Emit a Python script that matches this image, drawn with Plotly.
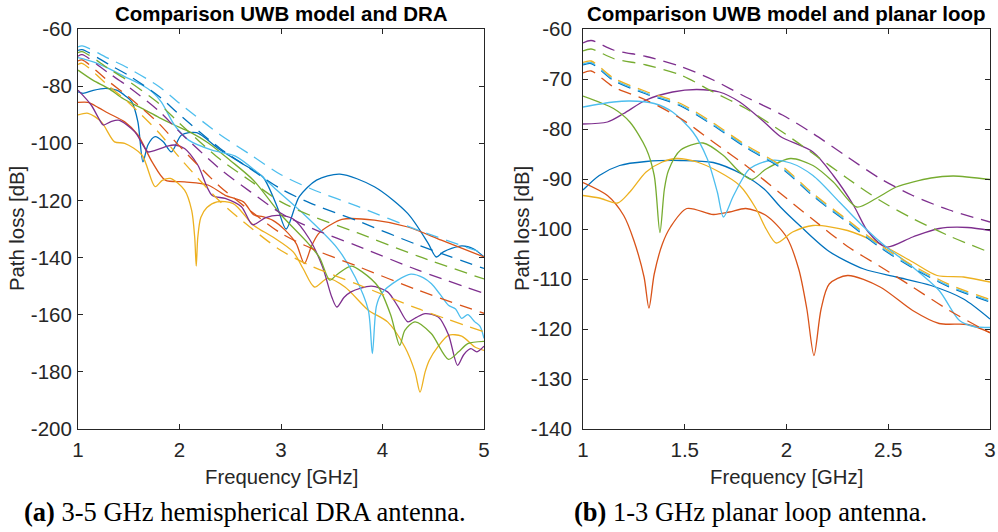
import plotly.graph_objects as go

# MATLAB default colour order
BLUE, RED, YELLOW, PURPLE, GREEN, CYAN = (
    "#0072BD", "#D95319", "#EDB120", "#7E2F8E", "#77AC30", "#4DBEEE")

# ---------------- (a) 3-5 GHz hemispherical DRA antenna ----------------
# measured path loss (solid)
dra_blue_f = [1.0, 1.05, 1.15, 1.27, 1.38, 1.47, 1.53, 1.59, 1.64, 1.69, 1.76, 1.84, 1.92, 2.02,
              2.17, 2.38, 2.64, 2.82, 2.96, 3.05, 3.18, 3.35, 3.58, 3.92, 4.25, 4.45, 4.53, 4.6,
              4.78, 4.9, 5.0]
dra_blue_pl = [-82.0, -82.5, -81.5, -80.8, -81.4, -83.5, -85.5, -92.5, -106.5, -100.5, -97.7, -99.5,
               -103.0, -97.1, -96.3, -101.8, -107.6, -111.7, -122.0, -130.0, -118.7, -112.9, -110.8,
               -115.2, -124.6, -135.0, -139.8, -138.0, -135.9, -137.0, -139.8]

dra_cyan_f = [1.0, 1.15, 1.3, 1.45, 1.63, 1.73, 1.82, 1.95, 2.09, 2.32, 2.55, 2.81, 2.94, 3.2, 3.55,
              3.73, 3.86, 3.9, 3.94, 3.99, 4.15, 4.28, 4.4, 4.48, 4.57, 4.65, 4.72, 4.78, 4.84,
              4.91, 4.96, 5.0]
dra_cyan_pl = [-70.0, -71.5, -73.8, -76.5, -79.6, -82.0, -85.5, -93.6, -98.9, -102.4, -104.5, -111.5,
               -115.8, -124.0, -136.5, -146.8, -158.4, -173.6, -157.0, -152.6, -147.9, -145.8, -147.0,
               -149.1, -153.0, -156.7, -158.0, -161.3, -160.0, -162.5, -164.0, -168.3]

dra_green_f = [1.0, 1.15, 1.3, 1.45, 1.63, 1.8, 1.95, 2.1, 2.28, 2.5, 2.73, 3.0, 3.27, 3.38, 3.48,
               3.55, 3.69, 3.8, 3.96, 4.08, 4.17, 4.22, 4.32, 4.48, 4.65, 4.75, 4.84, 5.0]
dra_green_pl = [-74.4, -78.0, -80.8, -84.5, -87.8, -91.0, -93.6, -96.0, -99.8, -106.0, -113.0, -125.0,
                -135.1, -140.0, -147.9, -146.0, -143.0, -145.0, -150.3, -160.0, -170.7, -165.5,
                -162.5, -166.6, -175.6, -173.0, -170.1, -169.3]

dra_purple_f = [1.0, 1.13, 1.2, 1.25, 1.32, 1.4, 1.56, 1.63, 1.69, 1.76, 1.88, 1.95, 2.05, 2.18, 2.32,
                2.45, 2.61, 2.72, 2.85, 2.97, 3.12, 3.28, 3.41, 3.5, 3.55, 3.62, 3.69, 3.89, 4.05,
                4.15, 4.25, 4.33, 4.42, 4.55, 4.65, 4.74, 4.8, 4.87, 4.93, 5.0]
dra_purple_pl = [-81.4, -86.6, -91.0, -93.6, -92.5, -91.9, -96.0, -100.0, -103.0, -102.5, -101.0,
                 -100.6, -101.8, -107.6, -118.2, -119.3, -122.2, -128.5, -126.0, -125.2, -126.5,
                 -133.5, -143.3, -153.8, -157.3, -154.0, -152.0, -150.0, -152.0, -157.0, -162.5,
                 -161.0, -159.6, -160.8, -167.0, -177.7, -174.0, -171.9, -173.0, -171.0]

dra_red_f = [1.0, 1.1, 1.2, 1.3, 1.46, 1.59, 1.73, 1.86, 2.05, 2.28, 2.45, 2.63, 2.73, 2.82, 2.92,
             3.04, 3.15, 3.23, 3.3, 3.37, 3.48, 3.6, 3.92, 4.25, 4.58, 5.0]
dra_red_pl = [-85.7, -85.7, -87.5, -89.5, -92.5, -97.1, -106.5, -112.9, -113.5, -114.6, -118.2,
              -120.5, -125.0, -125.7, -127.0, -130.4, -135.1, -142.1, -136.0, -131.6, -128.7,
              -126.6, -126.9, -129.3, -133.9, -139.8]

dra_yellow_f = [1.0, 1.1, 1.23, 1.36, 1.46, 1.63, 1.76, 1.83, 1.91, 2.05, 2.12, 2.15, 2.165, 2.18,
                2.21, 2.27, 2.37, 2.53, 2.73, 2.92, 3.12, 3.22, 3.33, 3.46, 3.63, 3.86, 4.05, 4.22,
                4.32, 4.37, 4.42, 4.46, 4.55, 4.65, 4.78, 4.91, 5.0]
dra_yellow_pl = [-90.1, -89.5, -92.5, -99.5, -100.0, -104.1, -115.2, -113.0, -112.3, -116.4, -123.5,
                 -133.0, -143.0, -133.0, -126.0, -122.5, -120.5, -121.1, -128.7, -132.8, -138.0,
                 -144.0, -150.3, -147.3, -150.3, -158.4, -162.5, -171.3, -180.0, -187.1, -180.0,
                 -176.0, -171.0, -167.2, -167.5, -171.3, -172.5]

# UWB channel model (dashed)
dra_model_f = [1.0, 1.04, 1.3, 1.5, 1.8, 2.0, 2.4, 2.7, 3.0, 3.3, 3.75, 4.35, 5.0]
dra_model_cyan = [-66.3, -65.9, -70.3, -73.8, -80.2, -86.0, -97.0, -104.0, -111.0, -116.0, -122.0,
                  -130.4, -138.5]
dra_model_blue = [-67.5, -67.2, -72.3, -76.3, -83.6, -90.0, -101.8, -109.0, -116.0, -121.1, -127.1,
                  -135.6, -143.8]
dra_model_green = [-68.3, -67.9, -73.8, -78.3, -86.2, -93.0, -105.6, -113.2, -120.5, -125.4, -131.3,
                   -139.5, -147.5]
dra_model_purple = [-69.5, -69.0, -75.4, -80.3, -88.8, -96.0, -109.0, -117.0, -124.5, -129.7, -135.9,
                    -144.4, -152.5]
dra_model_red = [-71.2, -70.8, -78.3, -83.8, -93.2, -101.0, -115.2, -123.7, -131.5, -136.8, -143.0,
                 -151.4, -159.5]
dra_model_yellow = [-72.4, -72.0, -79.9, -85.8, -96.4, -105.0, -120.4, -129.5, -137.5, -143.0,
                    -149.3, -157.9, -166.0]

# ---------------- (b) 1-3 GHz planar loop antenna ----------------
loop_blue_f = [1.0, 1.08, 1.18, 1.31, 1.48, 1.64, 1.78, 1.89, 1.97, 2.07, 2.21, 2.38, 2.54, 2.71,
               2.87, 3.0]
loop_blue_pl = [-92.2, -89.3, -87.3, -86.5, -86.3, -86.7, -89.0, -92.0, -95.6, -99.5, -104.5, -108.0,
                -109.6, -111.3, -114.0, -118.0]

loop_yellow_f = [1.0, 1.08, 1.17, 1.23, 1.31, 1.39, 1.46, 1.56, 1.67, 1.77, 1.85, 1.9, 1.95, 2.03,
                 2.13, 2.3, 2.46, 2.62, 2.74, 2.87, 3.0]
loop_yellow_pl = [-93.3, -93.8, -94.8, -92.6, -88.6, -86.6, -85.9, -86.6, -88.6, -91.3, -95.9,
                  -100.0, -102.8, -100.6, -99.3, -100.3, -103.0, -106.6, -109.3, -109.6, -110.6]

loop_red_f = [1.0, 1.12, 1.2, 1.25, 1.3, 1.324, 1.35, 1.39, 1.43, 1.51, 1.64, 1.72, 1.8, 1.9, 2.0,
              2.06, 2.1, 2.135, 2.17, 2.21, 2.3, 2.46, 2.62, 2.75, 2.89, 3.0]
loop_red_pl = [-90.7, -93.3, -97.3, -102.3, -109.6, -115.8, -109.0, -103.0, -99.6, -95.9, -97.1,
               -96.6, -95.9, -97.3, -101.6, -108.0, -116.0, -125.3, -116.0, -111.0, -109.3, -111.6,
               -116.3, -118.9, -119.1, -120.7]

loop_green_f = [1.0, 1.15, 1.23, 1.31, 1.35, 1.378, 1.40, 1.42, 1.48, 1.59, 1.69, 1.77, 1.83, 1.9,
                2.02, 2.13, 2.23, 2.345, 2.44, 2.54, 2.71, 2.82, 3.0]
loop_green_pl = [-73.4, -75.9, -78.6, -83.9, -89.3, -100.7, -92.0, -88.3, -84.2, -82.8, -85.3,
                 -88.6, -90.1, -88.0, -85.9, -87.3, -90.6, -95.6, -93.9, -91.6, -89.8, -89.4, -90.1]

loop_cyan_f = [1.0, 1.15, 1.23, 1.35, 1.44, 1.54, 1.61, 1.66, 1.69, 1.74, 1.82, 1.92, 2.02, 2.13,
               2.26, 2.38, 2.49, 2.62, 2.75, 2.85, 2.92, 3.0]
loop_cyan_pl = [-75.6, -74.6, -74.4, -74.9, -76.6, -80.6, -85.9, -92.6, -97.6, -93.3, -87.9, -86.3,
                -86.8, -89.3, -94.6, -99.6, -103.6, -107.6, -112.3, -118.3, -119.5, -119.7]

loop_purple_f = [1.0, 1.12, 1.2, 1.31, 1.44, 1.56, 1.67, 1.77, 1.89, 1.97, 2.13, 2.23, 2.33, 2.4,
                 2.49, 2.62, 2.75, 2.89, 3.0]
loop_purple_pl = [-79.0, -78.6, -76.9, -74.2, -72.6, -72.1, -72.6, -74.6, -78.6, -81.5, -84.6, -89.3,
                  -95.3, -100.5, -103.6, -101.6, -99.9, -99.7, -100.3]

loop_model_f = [1.0, 1.04, 1.15, 1.31, 1.48, 1.64, 1.8, 1.98, 2.13, 2.3, 2.46, 2.62, 2.8, 3.0]
loop_model_purple = [-62.8, -62.3, -64.2, -65.5, -67.5, -70.2, -73.6, -77.2, -80.9, -85.6, -89.9,
                     -93.3, -96.2, -98.6]
loop_model_green = [-64.4, -64.0, -65.9, -67.2, -69.2, -72.6, -75.9, -80.6, -84.9, -89.9, -94.3,
                    -97.9, -101.4, -104.7]
loop_model_yellow = [-66.7, -66.4, -69.8, -72.5, -74.9, -78.8, -83.2, -87.5, -92.9, -98.2, -103.2,
                     -107.3, -111.1, -114.1]
loop_model_cyan = [-67.0, -66.7, -70.1, -72.8, -75.2, -79.1, -83.5, -87.8, -93.2, -98.5, -103.5,
                   -107.6, -111.4, -114.4]
loop_model_blue = [-67.2, -66.9, -70.3, -73.0, -75.4, -79.3, -83.7, -88.0, -93.4, -98.7, -103.7,
                   -107.8, -111.6, -114.6]
loop_model_red = [-68.8, -68.4, -71.6, -74.2, -77.9, -82.6, -87.3, -93.2, -98.1, -103.5, -107.5,
                  -111.6, -116.3, -120.8]

# tick positions and labels (plain hyphen minus, as in MATLAB)
dra_xticks = [1, 2, 3, 4, 5]
dra_yticks = [-60, -80, -100, -120, -140, -160, -180, -200]
loop_xticks = [1, 1.5, 2, 2.5, 3]
loop_yticks = [-60, -70, -80, -90, -100, -110, -120, -130, -140]


def labels(vals):
    return [f"{v:g}" for v in vals]


W, H = 998, 532
AX = "#262626"
FONT = "Liberation Sans"
DASH = "13px,8px"

fig = go.Figure()


def add_line(x, y, color, axis, dashed=False):
    xa, ya = ("x", "y") if axis == 1 else ("x2", "y2")
    fig.add_trace(go.Scatter(
        x=x, y=y, mode="lines", xaxis=xa, yaxis=ya, showlegend=False,
        hoverinfo="skip",
        line=dict(color=color, width=1.3, shape="spline", smoothing=0.8,
                  dash=DASH if dashed else "solid")))


# panel (a)
for f, pl, c in [(dra_blue_f, dra_blue_pl, BLUE), (dra_red_f, dra_red_pl, RED),
                 (dra_yellow_f, dra_yellow_pl, YELLOW), (dra_purple_f, dra_purple_pl, PURPLE),
                 (dra_green_f, dra_green_pl, GREEN), (dra_cyan_f, dra_cyan_pl, CYAN)]:
    add_line(f, pl, c, 1)
for pl, c in [(dra_model_blue, BLUE), (dra_model_red, RED), (dra_model_yellow, YELLOW),
              (dra_model_purple, PURPLE), (dra_model_green, GREEN), (dra_model_cyan, CYAN)]:
    add_line(dra_model_f, pl, c, 1, dashed=True)

# panel (b)
for f, pl, c in [(loop_blue_f, loop_blue_pl, BLUE), (loop_red_f, loop_red_pl, RED),
                 (loop_yellow_f, loop_yellow_pl, YELLOW), (loop_purple_f, loop_purple_pl, PURPLE),
                 (loop_green_f, loop_green_pl, GREEN), (loop_cyan_f, loop_cyan_pl, CYAN)]:
    add_line(f, pl, c, 2)
for pl, c in [(loop_model_red, RED), (loop_model_purple, PURPLE), (loop_model_green, GREEN),
              (loop_model_blue, BLUE), (loop_model_cyan, CYAN), (loop_model_yellow, YELLOW)]:
    add_line(loop_model_f, pl, c, 2, dashed=True)


def px_x(p):
    return p / W


def px_y(p):
    return 1 - p / H


axis_common = dict(
    showline=True, mirror="ticks", linecolor=AX, linewidth=1,
    ticks="inside", ticklen=5, tickcolor=AX, tickwidth=1,
    showgrid=False, zeroline=False, automargin=False,
    tickfont=dict(family=FONT, size=20.5, color=AX),
)

top, bottom = px_y(29), px_y(429)
fig.update_layout(
    template="none",
    width=W, height=H,
    margin=dict(l=0, r=0, t=0, b=0, pad=0, autoexpand=False),
    paper_bgcolor="white", plot_bgcolor="white",
    xaxis=dict(axis_common, domain=[px_x(78), px_x(484)], range=[1, 5],
               tickvals=dra_xticks, ticktext=labels(dra_xticks), ticklabelstandoff=2,
               anchor="y"),
    yaxis=dict(axis_common, domain=[bottom, top], range=[-200, -60],
               tickvals=dra_yticks, ticktext=labels(dra_yticks), ticklabelstandoff=1,
               anchor="x"),
    xaxis2=dict(axis_common, domain=[px_x(583), px_x(990)], range=[1, 3],
                tickvals=loop_xticks, ticktext=labels(loop_xticks), ticklabelstandoff=2,
                anchor="y2"),
    yaxis2=dict(axis_common, domain=[bottom, top], range=[-140, -60],
                tickvals=loop_yticks, ticktext=labels(loop_yticks), ticklabelstandoff=6,
                anchor="x2"),
)

ann = []


def text(x, y, s, size, family=FONT, angle=0, color=AX):
    ann.append(dict(x=px_x(x), y=px_y(y), xref="paper", yref="paper", text=s,
                    showarrow=False, xanchor="center", yanchor="middle", textangle=angle,
                    font=dict(family=family, size=size, color=color)))


text(281, 14, "<b>Comparison UWB model and DRA</b>", 20.5, color="black")
text(786.5, 14, "<b>Comparison UWB model and planar loop</b>", 20.5, color="black")
text(281, 477, "Frequency [GHz]", 20.3)
text(786.5, 477, "Frequency [GHz]", 20.3)
text(17, 229, "Path loss [dB]", 20.3, angle=-90)
text(522, 229, "Path loss [dB]", 20.3, angle=-90)
text(245, 512, "<b>(a)</b> 3-5 GHz hemispherical DRA antenna.", 26.5, family="Liberation Serif",
     color="black")
text(750, 512, "<b>(b)</b> 1-3 GHz planar loop antenna.", 26.5, family="Liberation Serif",
     color="black")
fig.update_layout(annotations=ann)

fig.write_html("out.html")
